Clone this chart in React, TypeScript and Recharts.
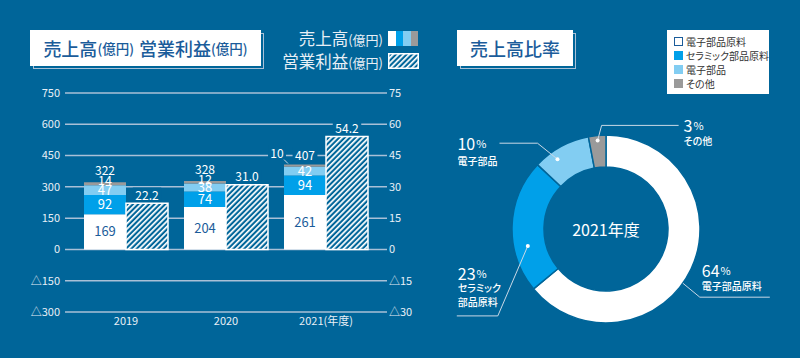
import React from 'react';
import { BarChart, Bar, XAxis, YAxis, CartesianGrid, LabelList, PieChart, Pie, Cell } from 'recharts';

// ---------- data ----------
const years = ['2019', '2020', '2021(年度)'];
const electronicMaterials = [169, 204, 261];
const ceramicMaterials = [92, 74, 94];
const electronicParts = [47, 38, 42];
const others = [14, 12, 10];
const totals = [322, 328, 407];
const operatingProfit = [22.2, 31.0, 54.2];

const leftTicks = [-300, -150, 0, 150, 300, 450, 600, 750];
const rightTicks = [-30, -15, 0, 15, 30, 45, 60, 75];

const shareNames = ['電子部品原料', 'セラミック部品原料', '電子部品', 'その他'];
const shareValues = [64, 23, 10, 3];
const shareLabelLines = [['電子部品原料'], ['セラミック', '部品原料'], ['電子部品'], ['その他']];
const pieCenterLabel = '2021年度';

// ---------- style ----------
const BG = '#006599';
const WHITE = '#ffffff';
const BLUE = '#00a0e9';
const LIGHT = '#82cdf2';
const GRAY = '#9a9a9a';
const DARKTEXT = '#1b5c9a';
const GRID = '#a9c0d7';
const LEADER = '#c9d8e6';
const TICK = '#e8eff6';
const FONT = "'Noto Sans CJK JP', 'Noto Sans', sans-serif";
const segColors = [WHITE, BLUE, LIGHT, GRAY];
const grayLabelSide = ['top', 'top', 'left'];

const barData = years.map((y, i) => ({
  year: y,
  s1: electronicMaterials[i],
  s2: ceramicMaterials[i],
  s3: electronicParts[i],
  s4: others[i],
  op: operatingProfit[i],
}));

const pieData = shareNames.map((n, i) => ({ name: n, value: shareValues[i] }));

const fmtTick = (v: number) => (v < 0 ? '△' + Math.abs(v) : String(v));

const vbOf = (p: any) => p.viewBox && p.viewBox.width !== undefined ? p.viewBox : { x: p.x, y: p.y, width: p.width, height: p.height };

const BgText = ({ x, y, text, size = 12 }: any) => {
  const s = String(text);
  let w = 0;
  for (const ch of s) w += ch === '.' ? size * 0.3 : size * 0.58;
  w += 4;
  return (
    <g>
      <rect x={x - w / 2} y={y - size * 0.55} width={w} height={size * 1.1} fill={BG} />
      <text x={x} y={y} fill={WHITE} fontSize={size} fontFamily={FONT} textAnchor="middle" dominantBaseline="central">{s}</text>
    </g>
  );
};

const grayLabel = (props: any) => {
  const vb = vbOf(props);
  const i = props.index;
  const { x, y, width } = vb;
  const cxb = x + width / 2;
  const v = others[i];
  const t = totals[i];
  if (grayLabelSide[i] === 'left') {
    return (
      <g>
        <line x1={x} y1={y - 5} x2={x + 4} y2={y - 1} stroke={LEADER} strokeWidth={1} />
        <BgText x={x - 7} y={y - 12} text={v} />
        <BgText x={cxb} y={y - 10} text={t} />
      </g>
    );
  }
  return (
    <g>
      <text x={cxb} y={y - 3} fill={WHITE} fontSize={12.5} fontFamily={FONT} textAnchor="middle" dominantBaseline="central">{v}</text>
      <BgText x={cxb} y={y - 13} text={t} />
    </g>
  );
};

const opLabel = (props: any) => {
  const vb = vbOf(props);
  const i = props.index;
  return <BgText x={vb.x + vb.width / 2} y={vb.y - 9} text={operatingProfit[i].toFixed(1)} />;
};

const RADIAN = Math.PI / 180;
const pieLabelLayout = [
  { dA: -10, r: 94, dot: false, ex: 17, ey: 14, lx: 70, tx: 2, ty: -27, gap: 15 },
  { dA: 14, r: 80, dot: true, ex: -30, ey: 70, lx: -41, tx: -40, ty: -43, gap: 15 },
  { dA: 6, r: 85, dot: true, ex: -20, ey: -16, lx: -38, tx: -80, ty: 0, gap: 17 },
  { dA: 0, r: 89, dot: true, ex: 4, ey: -15, lx: 77, tx: 82, ty: 0, gap: 15 },
];

const pieLabel = (props: any) => {
  const { cx, cy, midAngle, index } = props;
  const L = pieLabelLayout[index];
  const a = (midAngle + L.dA) * RADIAN;
  const px = cx + L.r * Math.cos(-a);
  const py = cy + L.r * Math.sin(-a);
  const ex = px + L.ex;
  const ey = py + L.ey;
  const lx = ex + L.lx;
  const tx = ex + L.tx;
  const ty = ey + L.ty;
  return (
    <g>
      <polyline points={`${px},${py} ${ex},${ey} ${lx},${ey}`} fill="none" stroke={LEADER} strokeWidth={1} />
      {L.dot && <circle cx={px} cy={py} r={2} fill={WHITE} />}
      <text x={tx} y={ty} fill={WHITE} fontFamily={FONT} dominantBaseline="central">
        <tspan fontSize={16}>{shareValues[index]}</tspan>
        <tspan fontSize={11} dx={1}>%</tspan>
      </text>
      {shareLabelLines[index].map((ln, k) => (
        <text key={k} x={tx} y={ty + L.gap + k * 14} fill={WHITE} fontFamily={FONT} fontSize={10} fontWeight={500}
          dominantBaseline="central" style={{ fontFeatureSettings: '"palt"' }}>{ln}</text>
      ))}
    </g>
  );
};

const HatchSwatch = () => (
  <svg width={31} height={16} style={{ display: 'block' }}>
    <rect x={0.75} y={0.75} width={29.5} height={14.5} fill="url(#hatchPat)" stroke={WHITE} strokeWidth={1.5} />
  </svg>
);

export default function App() {
  const small = { fontSize: 13.5 };
  return (
    <div style={{ position: 'absolute', left: 0, top: 0, width: 800, height: 358, background: BG, overflow: 'hidden', fontFamily: FONT }}>
      <svg width={0} height={0} style={{ position: 'absolute' }}>
        <defs>
          <pattern id="hatchPat" patternUnits="userSpaceOnUse" width={3.8} height={3.8} patternTransform="rotate(45)">
            <rect x={0} y={0} width={3.8} height={3.8} fill={BG} />
            <rect x={0} y={0} width={1.7} height={3.8} fill={WHITE} />
          </pattern>
        </defs>
      </svg>

      {/* left title */}
      <div style={{ position: 'absolute', left: 33, top: 33, width: 231, height: 36, boxSizing: 'border-box', border: `1.5px solid ${GRID}` }} />
      <div style={{ position: 'absolute', left: 30, top: 30, width: 231, height: 36, background: WHITE, color: DARKTEXT, display: 'flex', alignItems: 'center', justifyContent: 'center', fontSize: 18, fontWeight: 500, whiteSpace: 'nowrap' }}>
        <span>売上高</span><span style={small}>(億円)</span><span style={{ marginLeft: 5 }}>営業利益</span><span style={small}>(億円)</span>
      </div>

      {/* left legend */}
      <div style={{ position: 'absolute', left: 230, top: 28, width: 153, textAlign: 'right', color: TICK, fontSize: 16.5, lineHeight: '21px', whiteSpace: 'nowrap' }}>
        <div>売上高<span style={{ fontSize: 13 }}>(億円)</span></div>
        <div style={{ marginTop: 1 }}>営業利益<span style={{ fontSize: 13 }}>(億円)</span></div>
      </div>
      <div style={{ position: 'absolute', left: 388, top: 31, width: 30, height: 15, display: 'flex' }}>
        {segColors.map((c, i) => <div key={i} style={{ flex: 1, background: c }} />)}
      </div>
      <div style={{ position: 'absolute', left: 388, top: 53 }}><HatchSwatch /></div>

      {/* bar chart */}
      <div style={{ position: 'absolute', left: 0, top: 0 }}>
        <BarChart width={430} height={358} data={barData} margin={{ top: 93, right: 5, bottom: 16, left: 5 }} barCategoryGap={8} barGap={0}>
          <CartesianGrid vertical={false} stroke={GRID} strokeWidth={1.5} yAxisId="left" />
          <XAxis dataKey="year" type="category" padding={{ left: 11, right: 11 }} axisLine={false} tickLine={false} tickSize={0} tickMargin={5} height={30} interval={0}
            tick={{ fill: TICK, fontSize: 11, fontFamily: FONT }} />
          <YAxis yAxisId="left" domain={[-300, 750]} ticks={leftTicks} interval={0} width={60} axisLine={false} tickLine={false} tickSize={0} tickMargin={5}
            tickFormatter={fmtTick} tick={{ fill: TICK, fontSize: 11, fontFamily: FONT }} />
          <YAxis yAxisId="right" orientation="right" domain={[-30, 75]} ticks={rightTicks} interval={0} width={38} axisLine={false} tickLine={false} tickSize={0} tickMargin={2}
            tickFormatter={fmtTick} tick={{ fill: TICK, fontSize: 11, fontFamily: FONT, textAnchor: 'start' }} />
          <Bar yAxisId="left" dataKey="s1" stackId="a" fill={WHITE} isAnimationActive={false}>
            <LabelList dataKey="s1" position="center" fill={DARKTEXT} fontSize={13} fontFamily={FONT} />
          </Bar>
          <Bar yAxisId="left" dataKey="s2" stackId="a" fill={BLUE} isAnimationActive={false}>
            <LabelList dataKey="s2" position="center" fill={WHITE} fontSize={13} fontFamily={FONT} />
          </Bar>
          <Bar yAxisId="left" dataKey="s3" stackId="a" fill={LIGHT} isAnimationActive={false}>
            <LabelList dataKey="s3" position="center" fill={WHITE} fontSize={13} fontFamily={FONT} />
          </Bar>
          <Bar yAxisId="left" dataKey="s4" stackId="a" fill={GRAY} isAnimationActive={false}>
            <LabelList dataKey="s4" content={grayLabel} />
          </Bar>
          <Bar yAxisId="right" dataKey="op" fill="url(#hatchPat)" stroke={WHITE} strokeWidth={1.5} isAnimationActive={false}>
            <LabelList dataKey="op" content={opLabel} />
          </Bar>
        </BarChart>
      </div>

      {/* right title */}
      <div style={{ position: 'absolute', left: 460, top: 33, width: 116, height: 36, boxSizing: 'border-box', border: `1.5px solid ${GRID}` }} />
      <div style={{ position: 'absolute', left: 457, top: 30, width: 116, height: 36, background: WHITE, color: DARKTEXT, display: 'flex', alignItems: 'center', justifyContent: 'center', fontSize: 18, fontWeight: 500 }}>
        売上高比率
      </div>

      {/* right legend */}
      <div style={{ position: 'absolute', left: 667, top: 30, width: 102, height: 64, background: WHITE, boxSizing: 'border-box', padding: '4px 0 0 7px', fontSize: 10, color: '#333', fontFeatureSettings: '"palt"' }}>
        {shareNames.map((n, i) => (
          <div key={i} style={{ display: 'flex', alignItems: 'center', height: 14, whiteSpace: 'nowrap' }}>
            <div style={{ width: 9, height: 9, boxSizing: 'border-box', background: i === 0 ? WHITE : segColors[i], border: i === 0 ? `1.5px solid ${DARKTEXT}` : 'none', marginRight: 3 }} />
            <span>{n}</span>
          </div>
        ))}
      </div>

      {/* pie chart */}
      <div style={{ position: 'absolute', left: 430, top: 0 }}>
        <PieChart width={370} height={358} margin={{ top: 0, right: 0, bottom: 0, left: 0 }}>
          <Pie data={pieData} dataKey="value" nameKey="name" cx={176} cy={229} innerRadius={62} outerRadius={94} startAngle={90} endAngle={-270}
            stroke={BG} strokeWidth={1.5} isAnimationActive={false} label={pieLabel} labelLine={false}>
            {pieData.map((d, i) => <Cell key={i} fill={segColors[i]} />)}
          </Pie>
        </PieChart>
      </div>
      <div style={{ position: 'absolute', left: 556, top: 217, width: 100, textAlign: 'center', color: WHITE, fontSize: 16, lineHeight: '24px' }}>
        {pieCenterLabel}
      </div>
    </div>
  );
}
